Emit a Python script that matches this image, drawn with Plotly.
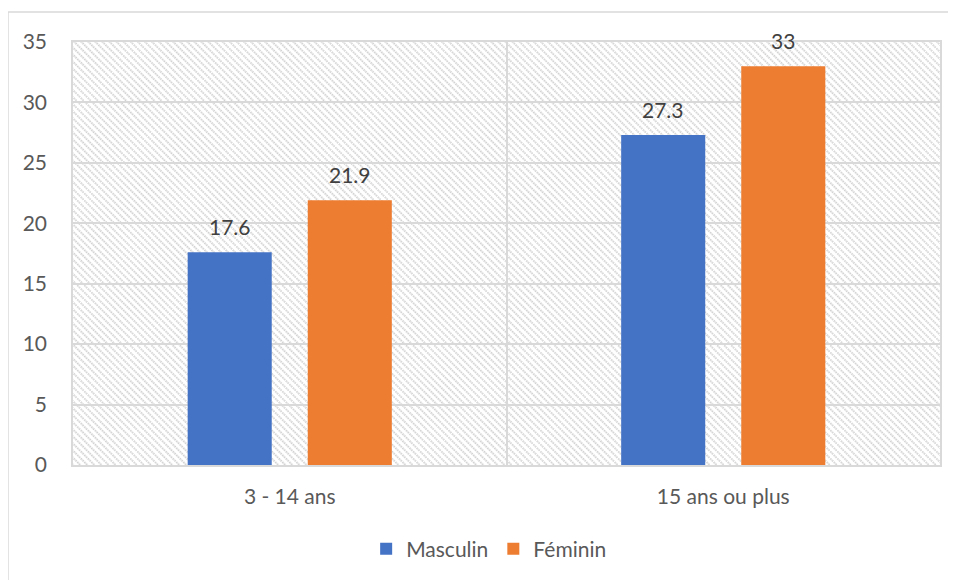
import base64
import plotly.graph_objects as go

categories = ["3 - 14 ans", "15 ans ou plus"]
masculin = [17.6, 27.3]
feminin = [21.9, 33]
series_names = ["Masculin", "Féminin"]
colors = ["#4472C4", "#ED7D31"]
y_ticks = [0, 5, 10, 15, 20, 25, 30, 35]

FONT = "Lato, 'Open Sans', sans-serif"

fig = go.Figure()
for name, vals, col in zip(series_names, [masculin, feminin], colors):
    fig.add_trace(go.Bar(x=categories, y=vals, name=name, marker=dict(color=col, line=dict(width=0))))

# data labels
offsets = [-60, 60]
for vals, dx in zip([masculin, feminin], offsets):
    for c, v in zip(categories, vals):
        fig.add_annotation(x=c, y=v, text=f"{v:g}", showarrow=False, xshift=dx, yshift=26,
                           font=dict(family=FONT, size=21, color="#404040"))

svg = ('<svg xmlns="http://www.w3.org/2000/svg" width="867" height="423">'
       '<defs><pattern id="p" width="5" height="5" patternUnits="userSpaceOnUse" patternTransform="rotate(-45)">'
       '<line x1="1" y1="0" x2="1" y2="5" stroke="#d2d2d2" stroke-width="2" stroke-dasharray="1.5,1"/>'
       '</pattern></defs><rect width="100%" height="100%" fill="url(#p)"/></svg>')
src = "data:image/svg+xml;base64," + base64.b64encode(svg.encode()).decode()
fig.add_layout_image(source=src, xref="paper", yref="paper", x=0, y=1, sizex=1, sizey=1,
                     sizing="stretch", xanchor="left", yanchor="top", layer="below")

# outer chart border
fig.add_shape(type="rect", xref="paper", yref="paper", x0=-0.075, x1=1.03, y0=-0.33, y1=1.071,
              line=dict(color="#d9d9d9", width=1.5), layer="below")

fig.update_layout(
    width=956, height=580,
    margin=dict(l=65, r=24, t=34, b=123),
    paper_bgcolor="white", plot_bgcolor="white",
    barmode="group", bargap=0.446, bargroupgap=0.3,
    font=dict(family=FONT, size=21, color="#595959"),
    legend=dict(orientation="h", x=0.48, xanchor="center", y=-0.199, yanchor="middle",
                font=dict(size=21, color="#595959"), itemclick=False),
    showlegend=True,
)
fig.update_yaxes(range=[0, 35], tickvals=y_ticks, showgrid=True, gridcolor="#d9d9d9", gridwidth=1.5,
                 showline=True, mirror=True, linecolor="#d9d9d9", linewidth=1.5,
                 ticks="", ticklabelstandoff=20, zeroline=False)
fig.update_xaxes(showgrid=True, gridcolor="#d9d9d9", gridwidth=1.5, tickson="boundaries",
                 showline=True, mirror=True, linecolor="#d9d9d9", linewidth=1.5,
                 ticks="", ticklabelstandoff=12)

fig.write_html("out.html")
